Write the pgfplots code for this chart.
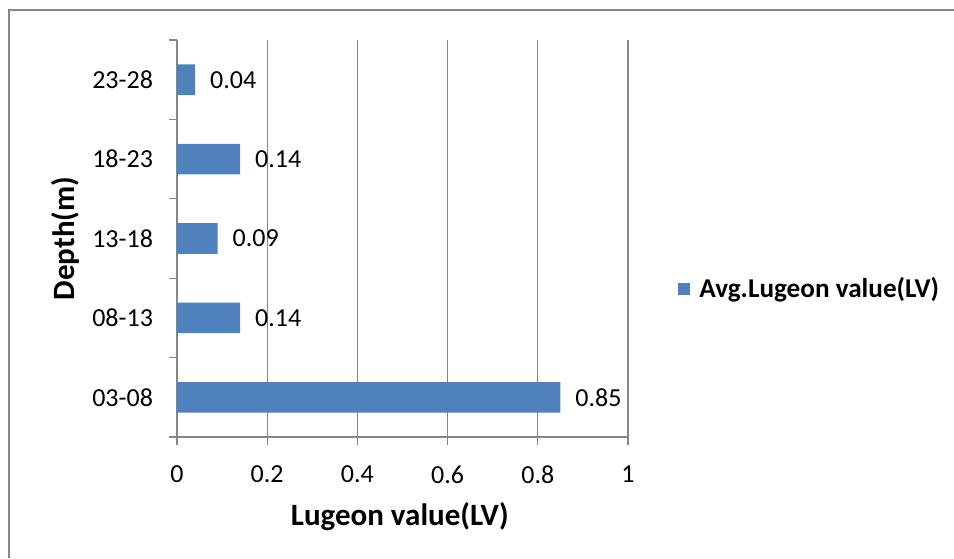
\documentclass[border=0pt]{standalone}
\usepackage{pgfplots}
\pgfplotsset{compat=1.18}
\usepackage{fontspec}
\setmainfont{Carlito}
\definecolor{barblue}{HTML}{4F81BD}
\definecolor{gridgray}{HTML}{868686}
\begin{document}
\begin{tikzpicture}
\useasboundingbox (0,0) rectangle (477pt,279pt);
% outer chart frame
\draw[gridgray, line width=1pt] (4.5pt,0) -- (4.5pt,274pt) -- (477pt,274pt);
\begin{axis}[
  at={(88.5pt,60.5pt)}, anchor=south west,
  width=225.5pt, height=198.5pt, scale only axis,
  xbar, bar width=15.3pt,
  xmin=0, xmax=1, ymin=-0.5, ymax=4.5,
  xtick={0,0.2,0.4,0.6,0.8,1},
  ytick={-0.5,0.5,1.5,2.5,3.5,4.5}, yticklabels={},
  extra y ticks={0,1,2,3,4},
  extra y tick labels={03-08,08-13,13-18,18-23,23-28},
  extra y tick style={tick style={draw=none}, yticklabel style={xshift=-4.5pt}},
  axis x line*=bottom, axis y line*=left,
  axis line style={-, gridgray, line width=0.6pt},
  tick align=outside, major tick length=4pt,
  tick style={gridgray, line width=0.6pt},
  xmajorgrids, grid style={gridgray, line width=0.6pt},
  /pgf/number format/assume math mode=true,
  ticklabel style={font=\fontsize{13}{15}\selectfont},
  xticklabel style={yshift=-7pt},
  xlabel={Lugeon value(LV)}, ylabel={Depth(m)},
  every axis x label/.style={at={(axis description cs:0.494,-0.2015)}, anchor=center,
    font=\bfseries\fontsize{15.5}{18}\selectfont},
  every axis y label/.style={at={(axis description cs:-0.248,0.5)}, rotate=90, anchor=center,
    font=\bfseries\fontsize{15.5}{18}\selectfont},
  nodes near coords, point meta=explicit symbolic,
  nodes near coords style={anchor=west, xshift=4pt, font=\fontsize{13}{15}\selectfont, black},
  legend style={at={(rel axis cs:1.111,0.373)}, anchor=west, draw=none, fill=none,
    font=\bfseries\fontsize{13.6}{15}\selectfont, inner sep=0pt, column sep=2.5pt},
  legend image code/.code={\fill[barblue] (0pt,-3pt) rectangle (6pt,3pt);},
]
\addplot[fill=barblue, draw=none] coordinates {
  (0.85,0) [0.85]
  (0.14,1) [0.14]
  (0.09,2) [0.09]
  (0.14,3) [0.14]
  (0.04,4) [0.04]
};
\legend{Avg.Lugeon value(LV)}
\end{axis}
\end{tikzpicture}
\end{document}
